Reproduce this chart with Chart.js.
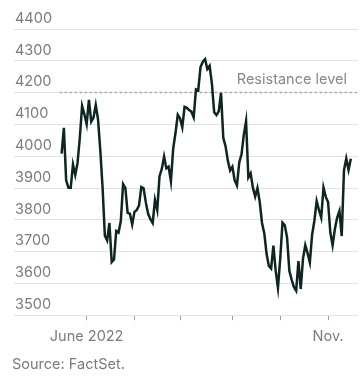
<!DOCTYPE html>
<html>
<head>
<meta charset="utf-8">
<script src="https://cdn.jsdelivr.net/npm/chart.js@4/dist/chart.umd.min.js"></script>
<style>
  html, body { margin: 0; padding: 0; background: #fff; }
  #wrap { width: 364px; height: 379px; }
</style>
</head>
<body>
<div id="wrap"><canvas id="chart"></canvas></div>
<script>
'use strict';

// daily closes, trading days from mid-May to mid-Nov 2022
var closes = [
  4008, 4089, 3924, 3901, 3901, 3974, 3941, 3979, 4058, 4158, 4132,
  4101, 4177, 4109, 4121, 4161, 4116, 4018, 3901, 3750, 3735, 3790,
  3667, 3675, 3765, 3760, 3796, 3912, 3900, 3822, 3819, 3785,
  3825, 3831, 3845, 3903, 3899, 3854, 3819, 3802, 3790, 3863,
  3831, 3937, 3960, 3999, 3962, 3967, 3921, 4024, 4072, 4130,
  4119, 4091, 4155, 4152, 4145, 4140, 4122, 4210, 4207, 4280,
  4297, 4305, 4274, 4284, 4228, 4138, 4129, 4141, 4199, 4058,
  4031, 3986, 3955,
  3967, 3924, 3908, 3980, 4006, 4067, 4110, 3933, 3946, 3901,
  3873, 3900, 3856, 3790, 3758, 3693, 3655, 3647, 3719, 3640, 3586,
  3678, 3791, 3783, 3745, 3640, 3612, 3589, 3577, 3670, 3583,
  3678, 3720, 3695, 3666, 3753, 3797, 3859, 3831, 3807, 3901, 3872,
  3856, 3760, 3720, 3771, 3807, 3828, 3749, 3956, 3993, 3957, 3992
];

// index of first trading day of each month and its label
var monthTicks  = [11, 32, 52, 75, 96, 117];
var monthLabels = ['June 2022', '', '', '', '', 'Nov.'];

var yTicks = [3500, 3600, 3700, 3800, 3900, 4000, 4100, 4200, 4300, 4400];
var resistance = 4200;
var resistanceLabel = 'Resistance level';
var source = 'Source: FactSet.';

var grey = '#7b7b7b';
var font = { family: 'Inter', size: 14.5 };

var resistanceText = {
  id: 'resistanceText',
  afterDatasetsDraw: function (chart) {
    var ctx = chart.ctx, area = chart.chartArea;
    var y = chart.scales.y.getPixelForValue(resistance);
    ctx.save();
    ctx.font = '14.5px Inter';
    ctx.fillStyle = '#888';
    ctx.textAlign = 'right';
    ctx.textBaseline = 'middle';
    ctx.fillText(resistanceLabel, area.right - 11, y - 13);
    ctx.restore();
  }
};

new Chart(document.querySelector('#chart'), {
  type: 'line',
  data: {
    datasets: [{
      data: closes.map(function (v, i) { return { x: i, y: v }; }),
      borderColor: '#0d2621',
      borderWidth: 2.5,
      pointRadius: 0,
      tension: 0,
      order: 1
    }, {
      data: [{ x: -0.8, y: resistance }, { x: 131, y: resistance }],
      borderColor: '#a0a0a0',
      borderWidth: 1.5,
      borderDash: [2, 3],
      pointRadius: 0,
      order: 2
    }]
  },
  options: {
    responsive: true,
    maintainAspectRatio: false,
    animation: false,
    layout: { padding: { top: 29, left: 12, right: 6, bottom: 6 } },
    plugins: {
      legend: { display: false },
      tooltip: { enabled: false },
      title: {
        display: true, text: source, position: 'bottom', align: 'start',
        color: grey, font: { family: 'Inter', size: 14.5, weight: 'normal' },
        padding: { top: 2, bottom: 0 }
      }
    },
    scales: {
      x: {
        type: 'linear', min: -20.9, max: 130.15,
        afterBuildTicks: function (axis) {
          axis.ticks = monthTicks.map(function (v) { return { value: v }; });
        },
        ticks: {
          autoSkip: false, maxRotation: 0, color: grey, font: font, padding: 8,
          callback: function (v) { return monthLabels[monthTicks.indexOf(v)]; }
        },
        grid: { drawOnChartArea: false, drawTicks: true, tickLength: 5, color: '#999' },
        border: { display: false }
      },
      y: {
        min: 3500, max: 4400,
        afterBuildTicks: function (axis) {
          axis.ticks = yTicks.map(function (v) { return { value: v }; });
        },
        ticks: {
          mirror: true, labelOffset: -10.5, padding: 1, color: grey, font: font,
          callback: function (v) { return String(v); }
        },
        grid: { color: '#e2e2e2', drawTicks: false, lineWidth: 1 },
        border: { display: false }
      }
    }
  },
  plugins: [resistanceText]
});
</script>
</body>
</html>
